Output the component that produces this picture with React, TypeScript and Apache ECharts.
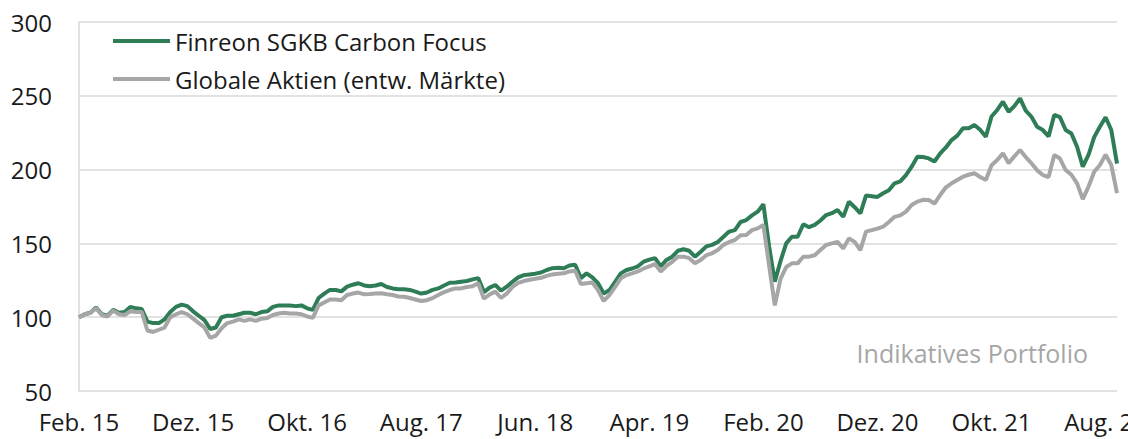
import React, { useEffect, useRef } from "react";
import * as echarts from "echarts";

// Month labels (one per month, Feb. 15 – Sep. 22); data is sampled twice per month
const months = [
  "Feb. 15","Mär. 15","Apr. 15","Mai 15","Jun. 15","Jul. 15","Aug. 15","Sep. 15","Okt. 15","Nov. 15","Dez. 15",
  "Jan. 16","Feb. 16","Mär. 16","Apr. 16","Mai 16","Jun. 16","Jul. 16","Aug. 16","Sep. 16","Okt. 16","Nov. 16","Dez. 16",
  "Jan. 17","Feb. 17","Mär. 17","Apr. 17","Mai 17","Jun. 17","Jul. 17","Aug. 17","Sep. 17","Okt. 17","Nov. 17","Dez. 17",
  "Jan. 18","Feb. 18","Mär. 18","Apr. 18","Mai 18","Jun. 18","Jul. 18","Aug. 18","Sep. 18","Okt. 18","Nov. 18","Dez. 18",
  "Jan. 19","Feb. 19","Mär. 19","Apr. 19","Mai 19","Jun. 19","Jul. 19","Aug. 19","Sep. 19","Okt. 19","Nov. 19","Dez. 19",
  "Jan. 20","Feb. 20","Mär. 20","Apr. 20","Mai 20","Jun. 20","Jul. 20","Aug. 20","Sep. 20","Okt. 20","Nov. 20","Dez. 20",
  "Jan. 21","Feb. 21","Mär. 21","Apr. 21","Mai 21","Jun. 21","Jul. 21","Aug. 21","Sep. 21","Okt. 21","Nov. 21","Dez. 21",
  "Jan. 22","Feb. 22","Mär. 22","Apr. 22","Mai 22","Jun. 22","Jul. 22","Aug. 22","Sep. 22",
];

// pairs: [start of month, mid-month]
const finreon = [
  100, 102, 103, 106.5, 102, 101, 105, 103, 103.5, 107, 106, 105.5, 97, 96, 96, 98.5, 103.5, 107, 108.5, 107.5, 104, 101,
  98, 92, 93, 100, 101, 101, 102, 103, 103, 102, 103.5, 104, 107, 108, 108, 108, 107.5, 108, 106, 105, 113, 116, 118.5, 118.4,
  117.5, 120.7, 122, 123, 121.5, 121, 121.5, 122.5, 120.5, 119.5, 119, 119, 118.5, 117.3, 116, 116.7, 118.5, 119.5, 121.5, 123.3, 123.5, 124, 124.5, 125.6,
  126.5, 117, 120, 121.8, 118, 120.7, 124, 127, 128.5, 129, 129.5, 130.3, 132, 133.2, 133.5, 133.2, 135, 135.5, 126.5, 129.7, 127, 123, 116, 118.4,
  124, 129.7, 132, 133, 134.5, 137.6, 139, 140, 134.5, 138.8, 141, 145, 146, 145, 141, 144.4, 148, 149, 151, 154.5, 158, 159, 164.5, 165.8,
  169, 171.5, 176.5, 148, 124, 138, 150, 154.5, 154.5, 163, 161, 162.5, 165.5, 169.2, 170.5, 172.6, 168, 178.3, 174.5, 170.4, 182.5, 182, 181.5, 184,
  186, 190.7, 192, 196.3, 202, 208.7, 208.5, 207.6, 205.5, 211, 215, 220, 223, 228, 228, 230.2, 227, 222.3, 236, 240.4, 246, 239.2, 243, 248.3,
  240, 235.8, 229, 226.8, 222.5, 237, 235.5, 226.8, 224.5, 215.5, 202, 209.9, 222, 229, 235.5, 226.8, 204,
];

const globale = [
  100, 102, 103, 106, 101.5, 100.5, 104.5, 102, 101.5, 104, 103.5, 103.5, 91, 90, 91.5, 93, 100, 102, 103.5, 102, 99, 96,
  93, 86, 87.5, 92.5, 96, 97, 98.5, 97.5, 98.5, 97.5, 99, 99.5, 101.5, 102.5, 103, 102.5, 102.5, 102, 100.5, 99.5, 108, 110, 112, 112,
  111.5, 115, 116, 116.7, 115.5, 115.7, 116, 116.2, 115.5, 115, 114, 113.8, 113, 112, 111, 111.5, 113, 115, 117, 118.4, 119.5, 119.5, 120.5, 121,
  123, 112.5, 115.5, 117.3, 113, 116, 120.5, 123.3, 124.5, 125.4, 126, 126.7, 128, 129, 129.5, 129.7, 131, 131.5, 122.5, 123, 123.5, 118.4, 111, 115,
  120.5, 126.3, 128.5, 129.7, 131, 133, 134.5, 136, 131, 134.7, 137.5, 141, 141, 140, 136.5, 138.8, 142, 143.3, 145.5, 149, 151, 152.3, 155.5, 155.7,
  159, 160.2, 162.5, 135, 108, 126, 134, 136.5, 136.5, 141, 141, 142, 145.5, 148.9, 150, 151, 146.5, 153.4, 151, 145.5, 158, 159, 160, 161.3,
  164.5, 168, 169, 171.5, 176, 178.3, 179.5, 179.4, 177, 182.8, 188, 190.7, 193, 195.2, 196.5, 197.5, 195, 193, 203, 206.5, 211, 204.3, 209, 213.3,
  208.5, 204.3, 199.5, 196.3, 195, 209.9, 207.5, 199.7, 196.5, 190.7, 180, 188.4, 198.5, 203.1, 210, 203.1, 184,
];

const yTicks = { min: 50, max: 300, interval: 50 };
const seriesNames = ["Finreon SGKB Carbon Focus", "Globale Aktien (entw. Märkte)"];
const note = "Indikatives Portfolio";

export default function App() {
  const ref = useRef<HTMLDivElement>(null);
  useEffect(() => {
    if (!ref.current) return;
    const chart = echarts.init(ref.current, null, { renderer: "svg" });
    const font = "'Open Sans', 'Noto Sans', sans-serif";
    const categories: string[] = [];
    months.forEach((m, i) => {
      categories.push(m);
      if (i < months.length - 1) categories.push(m + " (Mitte)");
    });
    chart.setOption({
      animation: false,
      backgroundColor: "#ffffff",
      grid: { left: 79, right: 11, top: 22, bottom: 48, containLabel: false, outerBoundsMode: "none" },
      legend: {
        orient: "vertical",
        left: 113,
        top: 28,
        padding: 0,
        itemGap: 12,
        itemWidth: 57,
        itemHeight: 4,
        icon: "rect",
        textStyle: { fontFamily: font, fontSize: 24, color: "#1a1a1a", lineHeight: 26 },
        data: seriesNames,
      },
      xAxis: {
        type: "category",
        data: categories,
        boundaryGap: false,
        axisLine: { show: false },
        axisTick: { show: false },
        axisLabel: {
          interval: 19,
          margin: 18,
          fontFamily: font,
          fontSize: 24,
          color: "#1a1a1a",
          hideOverlap: false,
        },
        splitLine: { show: false },
      },
      yAxis: {
        type: "value",
        min: yTicks.min,
        max: yTicks.max,
        interval: yTicks.interval,
        axisLine: { show: true, lineStyle: { color: "#d9d9d9", width: 1.5 } },
        axisTick: { show: false },
        axisLabel: { margin: 27, fontFamily: font, fontSize: 24, color: "#1a1a1a" },
        splitLine: { show: true, lineStyle: { color: "#d9d9d9", width: 1.5 } },
      },
      graphic: [
        {
          type: "text",
          right: 40,
          top: 340,
          style: {
            text: note,
            fontFamily: font,
            fontSize: 25,
            fill: "#a6a6a6",
          },
        },
      ],
      series: [
        {
          name: seriesNames[0],
          type: "line",
          data: finreon,
          symbol: "none",
          lineStyle: { color: "#2e7d57", width: 4 },
          itemStyle: { color: "#2e7d57" },
        },
        {
          name: seriesNames[1],
          type: "line",
          data: globale,
          symbol: "none",
          lineStyle: { color: "#a6a6a6", width: 4 },
          itemStyle: { color: "#a6a6a6" },
        },
      ],
    });
    return () => chart.dispose();
  }, []);
  return (
    <div
      ref={ref}
      style={{ position: "fixed", left: 0, top: 0, width: 1128, height: 439 }}
    />
  );
}
